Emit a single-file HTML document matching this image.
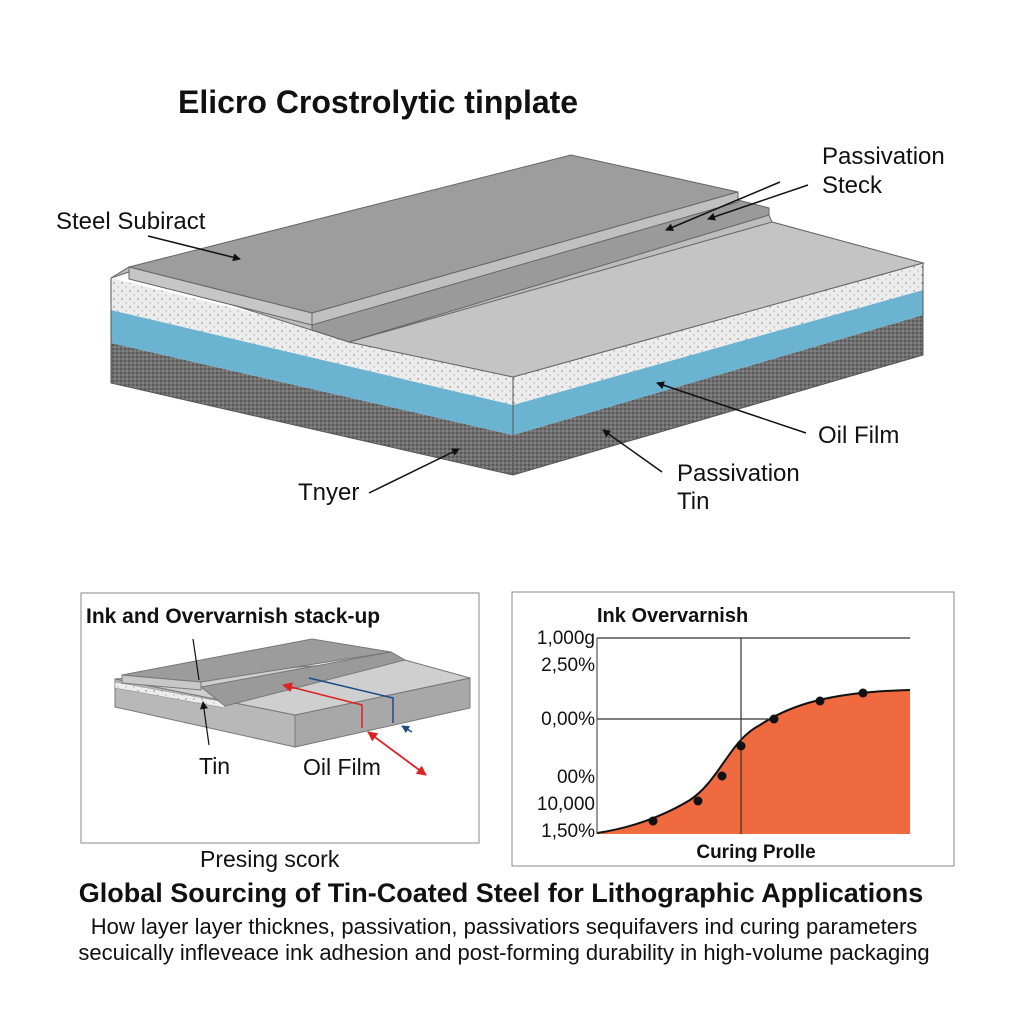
<!DOCTYPE html>
<html><head><meta charset="utf-8"><style>
html,body{margin:0;padding:0;background:#fff;}
svg{display:block;font-family:"Liberation Sans",sans-serif;}
</style></head><body>
<svg width="1024" height="1024" viewBox="0 0 1024 1024" xmlns="http://www.w3.org/2000/svg">
<defs>
<pattern id="dots" width="8" height="8" patternUnits="userSpaceOnUse">
<rect width="8" height="8" fill="#ececec"/><circle cx="2" cy="3" r="0.7" fill="#777"/><circle cx="6" cy="7" r="0.6" fill="#999"/>
</pattern>
<pattern id="dark" width="4" height="4" patternUnits="userSpaceOnUse">
<rect width="4" height="4" fill="#707070"/><circle cx="1" cy="1" r="0.9" fill="#4a4a4a"/><circle cx="3" cy="3" r="0.9" fill="#8e8e8e"/>
</pattern>
<marker id="ar" markerWidth="8" markerHeight="8" refX="7" refY="4" orient="auto" markerUnits="userSpaceOnUse"><path d="M0,0 L8,4 L0,8 z" fill="#111"/></marker>
<marker id="arr" markerWidth="10" markerHeight="10" refX="9" refY="5" orient="auto-start-reverse" markerUnits="userSpaceOnUse"><path d="M0,0 L10,5 L0,10 z" fill="#d22"/></marker>
<marker id="arb" markerWidth="8" markerHeight="8" refX="7" refY="4" orient="auto" markerUnits="userSpaceOnUse"><path d="M0,0 L8,4 L0,8 z" fill="#1a4a8a"/></marker>
</defs>

<text x="178" y="113" font-size="32" font-weight="bold" fill="#111">Elicro Crostrolytic tinplate</text>

<polygon points="111,383 513,475 513,435 111,343" fill="url(#dark)"/>
<polygon points="513,475 923,355 923,315 513,435" fill="url(#dark)"/>
<polygon points="111,343 513,435 513,405 111,310" fill="#6ab4d2"/>
<polygon points="513,435 923,315 923,290 513,405" fill="#6ab4d2"/>
<polygon points="111,310 513,405 513,377 111,278" fill="url(#dots)"/>
<polygon points="513,405 923,290 923,263 513,377" fill="url(#dots)"/>
<polyline points="111,278 111,383 513,475 923,355 923,263" fill="none" stroke="#555" stroke-width="1"/>
<line x1="513" y1="377" x2="513" y2="475" stroke="#555"/>
<polygon points="111,278 129,272 349,342 513,377 923,263 772,222 769,215 738,200 129,267" fill="#bdbdbd" stroke="#666"/>
<polygon points="349,342 772,222 923,263 513,377" fill="#c4c4c4" stroke="#666"/>
<polygon points="312,313 738,200 769,208 769,215 349,342 312,330" fill="#9a9a9a" stroke="#666"/>
<polygon points="129,267 571,155 738,192 312,313" fill="#9d9d9d" stroke="#666"/>
<polygon points="129,267 312,313 312,325 129,279" fill="#c6c6c6" stroke="#666"/>
<polygon points="312,313 738,192 738,202 312,325" fill="#c0c0c0" stroke="#666"/>

<text x="56" y="229" font-size="24" fill="#111">Steel Subiract</text>
<line x1="148" y1="236" x2="240" y2="259" stroke="#111" stroke-width="1.5" marker-end="url(#ar)"/>
<text x="822" y="164" font-size="24" fill="#111">Passivation</text>
<text x="822" y="193" font-size="24" fill="#111">Steck</text>
<line x1="780" y1="182" x2="666" y2="230" stroke="#111" stroke-width="1.5" marker-end="url(#ar)"/>
<line x1="808" y1="185" x2="708" y2="219" stroke="#111" stroke-width="1.5" marker-end="url(#ar)"/>
<line x1="806" y1="433" x2="657" y2="383" stroke="#111" stroke-width="1.5" marker-end="url(#ar)"/>
<text x="818" y="443" font-size="24" fill="#111">Oil Film</text>
<line x1="662" y1="472" x2="603" y2="430" stroke="#111" stroke-width="1.5" marker-end="url(#ar)"/>
<text x="677" y="481" font-size="24" fill="#111">Passivation</text>
<text x="677" y="509" font-size="24" fill="#111">Tin</text>
<text x="298" y="500" font-size="24" fill="#111">Tnyer</text>
<line x1="369" y1="493" x2="459" y2="449" stroke="#111" stroke-width="1.5" marker-end="url(#ar)"/>

<rect x="81" y="593" width="398" height="250" fill="#fff" stroke="#888"/>
<text x="86" y="623" font-size="21" font-weight="bold" fill="#111">Ink and Overvarnish stack-up</text>
<polygon points="115,707 295,747 295,715 115,679" fill="#b8b8b8" stroke="#777"/>
<polygon points="295,747 470,708 470,678 295,715" fill="#a8a8a8" stroke="#777"/>
<polygon points="115,679 405,660 470,678 295,715" fill="#cfcfcf" stroke="#777"/>
<polygon points="115,682 225,702 225,708 115,688" fill="url(#dots)" stroke="#888" stroke-width="0.5"/>
<polygon points="201,687 391,652 405,660 225,706" fill="#9a9a9a" stroke="#777"/>
<polygon points="122,675 312,639 391,652 201,682" fill="#9c9c9c" stroke="#777"/>
<polygon points="122,675 201,682 201,690 122,683" fill="#c8c8c8" stroke="#777"/>
<line x1="193" y1="639" x2="199" y2="680" stroke="#111" stroke-width="1.2"/>
<line x1="209" y1="745" x2="203" y2="702" stroke="#111" stroke-width="1.2" marker-end="url(#ar)"/>
<polyline points="362,728 362,705 283,685" fill="none" stroke="#d22" stroke-width="1.5" marker-end="url(#arr)"/>
<line x1="368" y1="732" x2="426" y2="775" stroke="#d22" stroke-width="1.8" marker-start="url(#arr)" marker-end="url(#arr)"/>
<polyline points="309,678 393,698 393,723" fill="none" stroke="#1a4a8a" stroke-width="1.5"/>
<line x1="412" y1="732" x2="402" y2="726" stroke="#1a4a8a" stroke-width="1.5" marker-end="url(#arb)"/>
<text x="199" y="774" font-size="23" fill="#111">Tin</text>
<text x="303" y="775" font-size="23" fill="#111">Oil Film</text>
<text x="200" y="867" font-size="23" fill="#111">Presing scork</text>

<rect x="512" y="592" width="442" height="274" fill="#fff" stroke="#888"/>
<text x="597" y="622" font-size="20" font-weight="bold" fill="#111">Ink Overvarnish</text>
<path d="M597,833 C630,828 660,818 690,800 C720,780 730,740 760,725 C790,705 830,692 910,690 L910,834 L597,834 Z" fill="#ef6a3e"/>
<path d="M597,833 C630,828 660,818 690,800 C720,780 730,740 760,725 C790,705 830,692 910,690" fill="none" stroke="#111" stroke-width="2"/>
<line x1="597" y1="638" x2="910" y2="638" stroke="#333" stroke-width="1.2"/>
<line x1="597" y1="719" x2="774" y2="719" stroke="#333" stroke-width="1.2"/>
<line x1="741" y1="638" x2="741" y2="834" stroke="#333" stroke-width="1.2"/>
<line x1="597" y1="638" x2="597" y2="834" stroke="#333" stroke-width="1"/>
<g fill="#111"><circle cx="653" cy="821" r="4.5"/><circle cx="698" cy="801" r="4.5"/><circle cx="722" cy="776" r="4.5"/><circle cx="741" cy="746" r="4.5"/><circle cx="774" cy="719" r="4.5"/><circle cx="820" cy="701" r="4.5"/><circle cx="863" cy="693" r="4.5"/></g>
<g font-size="19" fill="#111" text-anchor="end">
<text x="595" y="644">1,000g</text><text x="595" y="671">2,50%</text><text x="595" y="725">0,00%</text><text x="595" y="783">00%</text><text x="595" y="810">10,000</text><text x="595" y="837">1,50%</text>
</g>
<text x="756" y="858" font-size="19" font-weight="bold" fill="#111" text-anchor="middle">Curing Prolle</text>

<text x="501" y="902" font-size="27" font-weight="bold" fill="#111" text-anchor="middle">Global Sourcing of Tin-Coated Steel for Lithographic Applications</text>
<text x="504" y="934" font-size="22" fill="#111" text-anchor="middle">How layer layer thicknes, passivation, passivatiors sequifavers ind curing parameters</text>
<text x="504" y="960" font-size="22" fill="#111" text-anchor="middle">secuically infleveace ink adhesion and post-forming durability in high-volume packaging</text>
</svg>
</body></html>
